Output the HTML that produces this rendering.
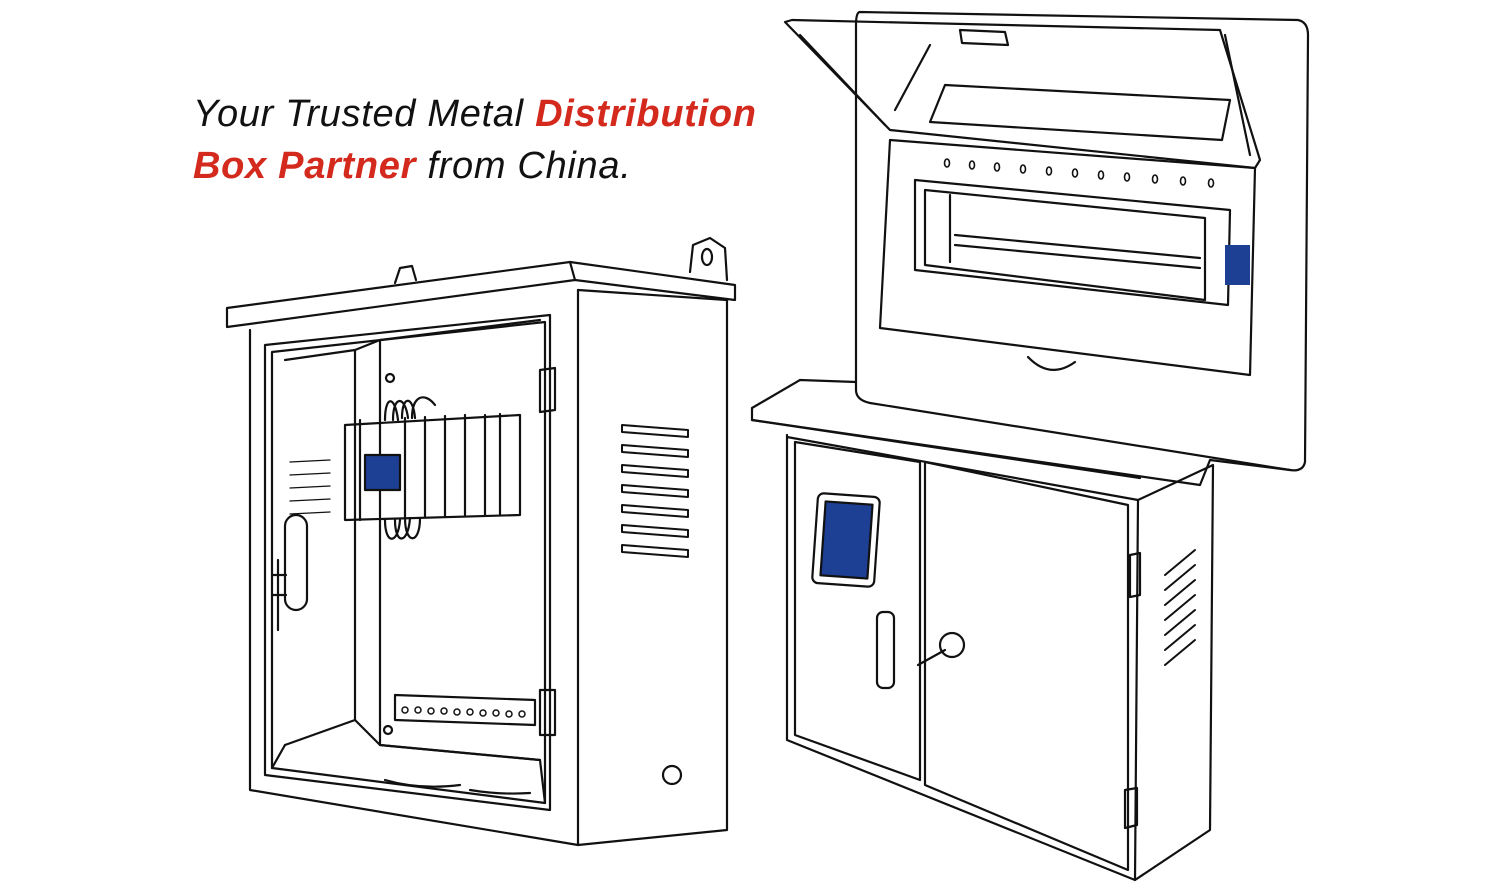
<!DOCTYPE html>
<html><head><style>
html,body{margin:0;padding:0;background:#fff;width:1500px;height:896px;overflow:hidden}
.t{position:absolute;left:193px;font-family:"Liberation Sans",sans-serif;font-style:italic;font-size:38px;color:#111;white-space:nowrap;letter-spacing:0.7px}
.r{color:#d42a1e;font-weight:bold}
svg{position:absolute;left:0;top:0}
</style></head><body>
<svg width="1500" height="896" viewBox="0 0 1500 896" fill="none" stroke="#111" stroke-width="2.2" stroke-linejoin="round" stroke-linecap="round">
<path d="M395,283 L400,268 L412,266 L416,280"/><path d="M690,272 L693,245 L710,238 L725,248 L727,280"/>
<ellipse cx="707" cy="257" rx="5" ry="8"/>
<path d="M227,308 L570,262 L735,285 L735,300 L575,280 L227,327 Z"/>
<path d="M570,262 L575,280"/>
<path d="M250,330 L250,790 L578,845 L578,290"/>
<path d="M578,290 L727,300 L727,830 L578,845"/>
<path d="M265,345 L550,315 L550,810 L265,775 Z"/>
<path d="M272,352 L545,322 L545,803 L272,768 Z"/>
<path d="M285,360 L355,350 L355,720 L285,745"/>
<path d="M355,350 L380,340 L540,320 M380,340 L380,745 L540,760 M355,720 L380,745 M285,745 L272,768"/>
<path d="M380,745 L540,760 L545,803"/>
<path d="M540,370 L555,368 L555,410 L540,412 Z M540,690 L555,690 L555,735 L540,735 Z"/>
<g stroke-width="2">
<path d="M622,425 L688,430 L688,437 L622,432 Z M622,445 L688,450 L688,457 L622,452 Z M622,465 L688,470 L688,477 L622,472 Z M622,485 L688,490 L688,497 L622,492 Z M622,505 L688,510 L688,517 L622,512 Z M622,525 L688,530 L688,537 L622,532 Z M622,545 L688,550 L688,557 L622,552 Z"/>
<path d="M290,462 L330,460 M290,475 L330,473 M290,488 L330,486 M290,501 L330,499 M290,514 L330,512" stroke-width="1.3"/>
</g>
<circle cx="672" cy="775" r="9"/>
<path d="M345,425 L520,415 L520,515 L345,520 Z"/>
<path d="M360,420 L360,520 M405,418 L405,518 M425,417 L425,517 M445,416 L445,516 M465,415 L465,515 M485,415 L485,515 M500,414 L500,514"/>
<path d="M385,420 C385,395 395,395 398,420 M393,420 C393,395 405,395 408,418 M402,418 C402,395 413,395 415,418 M412,418 C412,395 425,392 435,405 M385,520 C385,545 398,545 400,520 M395,520 C395,545 408,545 410,518 M405,518 C405,545 420,545 420,518"/>
<rect x="365" y="455" width="35" height="35" fill="#1d3f94" stroke="#111"/>
<path d="M395,695 L535,700 L535,725 L395,720 Z"/>
<g stroke-width="1.5"><circle cx="405" cy="710" r="3"/><circle cx="418" cy="710" r="3"/><circle cx="431" cy="711" r="3"/><circle cx="444" cy="711" r="3"/><circle cx="457" cy="712" r="3"/><circle cx="470" cy="712" r="3"/><circle cx="483" cy="713" r="3"/><circle cx="496" cy="713" r="3"/><circle cx="509" cy="714" r="3"/><circle cx="522" cy="714" r="3"/></g>
<circle cx="390" cy="378" r="4"/><circle cx="388" cy="730" r="4"/>
<rect x="285" y="515" width="22" height="95" rx="11"/>
<path d="M278,560 L278,630 M272,575 L286,575 M272,595 L286,595"/>
<path d="M385,780 Q420,790 460,785 M470,790 Q500,795 530,793"/>
<path d="M860,12 L1298,20 Q1308,22 1308,35 L1305,462 Q1303,472 1290,470 L870,403 Q856,400 856,390 L856,25 Q856,12 860,12 Z"/>
<path d="M785,22 L792,20 L1220,30 L1260,160 L1255,168 L890,130 Z"/>
<path d="M800,35 L885,125 M930,45 L895,110 M1225,35 L1250,155"/>
<path d="M945,85 L1230,100 L1222,140 L930,122 Z"/>
<path d="M890,140 L1255,168 L1250,375 L880,328 Z"/>
<path d="M915,180 L1230,210 L1228,305 L915,270 Z"/>
<path d="M925,190 L1205,218 L1205,300 L925,265 Z M950,195 L950,262 M955,235 L1200,258 M955,245 L1200,268"/>
<path d="M960,30 L1005,32 L1008,45 L962,43 Z"/>
<path d="M1028,357 Q1050,380 1075,362"/>
<rect x="1225" y="245" width="25" height="40" fill="#1d3f94" stroke="none"/>
<g stroke-width="1.6"><ellipse cx="947" cy="163" rx="2.5" ry="4"/><ellipse cx="972" cy="165" rx="2.5" ry="4"/><ellipse cx="997" cy="167" rx="2.5" ry="4"/><ellipse cx="1023" cy="169" rx="2.5" ry="4"/><ellipse cx="1049" cy="171" rx="2.5" ry="4"/><ellipse cx="1075" cy="173" rx="2.5" ry="4"/><ellipse cx="1101" cy="175" rx="2.5" ry="4"/><ellipse cx="1127" cy="177" rx="2.5" ry="4"/><ellipse cx="1155" cy="179" rx="2.5" ry="4"/><ellipse cx="1183" cy="181" rx="2.5" ry="4"/><ellipse cx="1211" cy="183" rx="2.5" ry="4"/></g>
<path d="M752,408 L800,380 L856,382 M752,408 L752,420 L1200,485 L1210,460 L1290,470"/>
<path d="M752,420 L1140,478"/>
<path d="M787,435 L787,740 L1135,880 L1138,500 L787,437"/>
<path d="M1138,500 L1213,465 L1210,830 L1135,880"/>
<path d="M795,442 L795,735 L920,780 L920,462 Z"/>
<path d="M925,462 L925,785 L1128,870 L1128,505 Z"/>
<rect x="815" y="495" width="62" height="90" rx="6" transform="rotate(4 846 540)"/>
<rect x="823" y="503" width="47" height="74" fill="#1d3f94" transform="rotate(4 846 540)"/>
<rect x="877" y="612" width="17" height="76" rx="6"/>
<circle cx="952" cy="645" r="12"/><path d="M918,665 L945,650"/>
<g stroke-width="2"><path d="M1165,575 L1195,550 M1165,590 L1195,565 M1165,605 L1195,580 M1165,620 L1195,595 M1165,635 L1195,610 M1165,650 L1195,625 M1165,665 L1195,640"/></g>
<path d="M1130,555 L1140,553 L1140,595 L1130,597 Z M1125,790 L1137,788 L1137,825 L1125,828 Z"/>
</svg>
<div class="t" style="top:93px">Your Trusted Metal <span class="r">Distribution</span></div>
<div class="t" style="top:145px"><span class="r">Box Partner</span> from China.</div>
</body></html>
